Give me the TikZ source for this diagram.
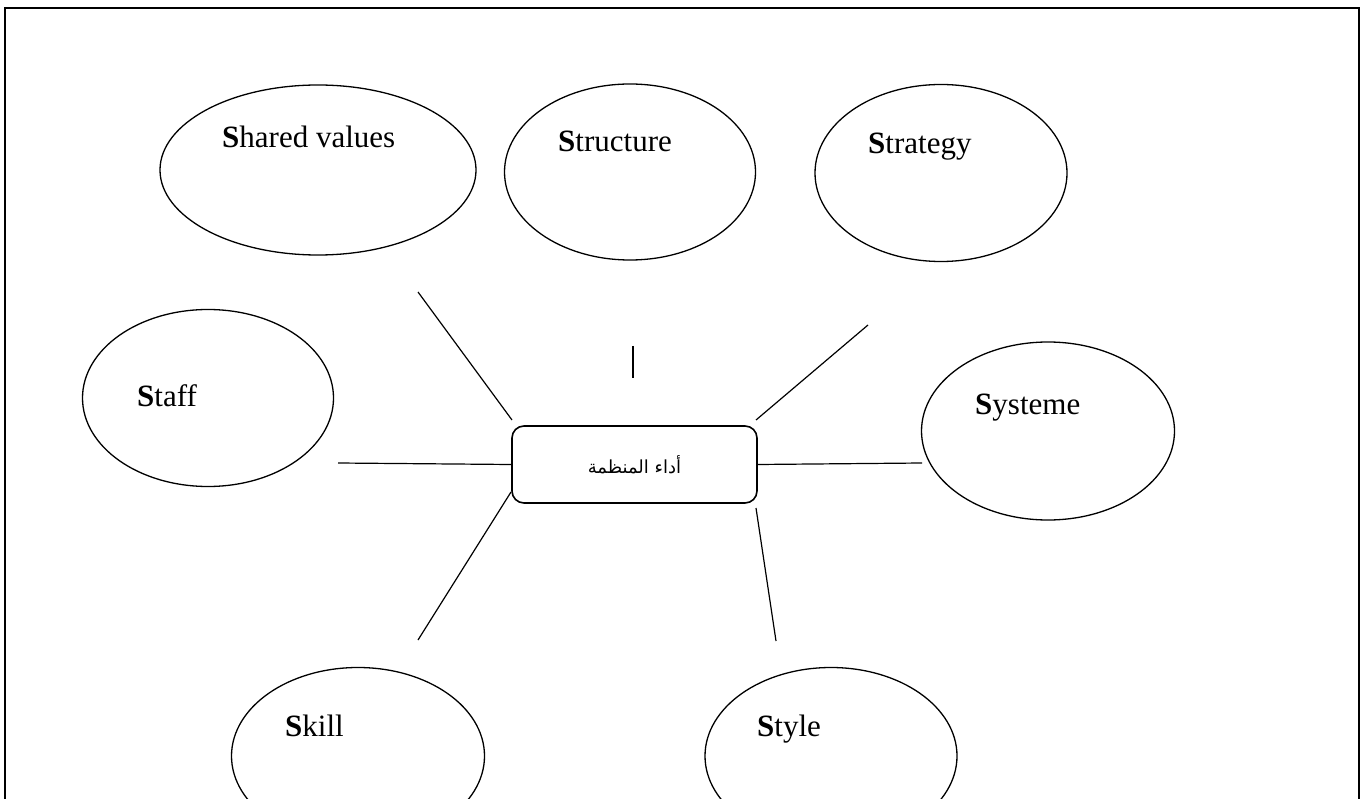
\documentclass[tikz,border=0pt]{standalone}
\usepackage{fontspec}
\setmainfont{Liberation Serif}
\newfontfamily\arabicfont[Script=Arabic]{DejaVu Sans}
\TeXXeTstate=1
\usetikzlibrary{shapes.geometric}
\tikzset{
  sblob/.style={ellipse, draw, line width=1.3pt, inner sep=0pt},
  sname/.style={anchor=base west, font=\fontsize{31}{35}\selectfont, inner sep=0pt},
  spoke/.style={line width=1.2pt},
  core/.style={draw, rounded corners=12pt, line width=1.6pt, minimum width=245pt, minimum height=77pt}
}
\begin{document}
\begin{tikzpicture}[x=1pt,y=-1pt]
\useasboundingbox (0,0) rectangle (1370,799);
\clip (0,0) rectangle (1370,799);
% frame
\draw[line width=2.4pt] (5,830) -- (5,8) -- (1359,8) -- (1359,830);

% the seven elements
\node[sblob, minimum width=316pt, minimum height=170pt] (shv) at (318,170) {};
\node[sblob, minimum width=251pt, minimum height=176pt] (str) at (630,172) {};
\node[sblob, minimum width=252pt, minimum height=177pt] (stg) at (941,173) {};
\node[sblob, minimum width=251pt, minimum height=177pt] (stf) at (208,398) {};
\node[sblob, minimum width=253pt, minimum height=178pt] (sys) at (1048,431) {};
\node[sblob, minimum width=253pt, minimum height=177pt] (skl) at (358,756) {};
\node[sblob, minimum width=252pt, minimum height=177pt] (sty) at (831,756) {};

\node[sname] (shvt) at (222,148) {\textbf{S}hared values};
\node[sname] (strt) at (558,152) {\textbf{S}tructure};
\node[sname] (stgt) at (868,154) {\textbf{S}trategy};
\node[sname] (stft) at (137,406) {\textbf{S}taff};
\node[sname] (syst) at (975,414) {\textbf{S}ysteme};
\node[sname] (sklt) at (285,736) {\textbf{S}kill};
\node[sname] (styt) at (757,736) {\textbf{S}tyle};

% organisational performance
\node[core] (perf) at (634.5,464.5) {\arabicfont\fontsize{18}{21}\selectfont\beginR أداء المنظمة\endR};

% spokes
\coordinate (a1) at (418,292); \coordinate (a2) at (512,420);
\coordinate (b1) at (633,346); \coordinate (b2) at (633,378);
\coordinate (c1) at (868,325); \coordinate (c2) at (756,420);
\coordinate (d1) at (338,463); \coordinate (d2) at (perf.west);
\coordinate (e1) at (perf.east); \coordinate (e2) at (922,463);
\coordinate (f1) at (511,492); \coordinate (f2) at (418,640);
\coordinate (g1) at (756,508); \coordinate (g2) at (776,641);
\draw[spoke] (a1) -- (a2);
\draw[spoke] (b1) -- (b2);
\draw[spoke] (c1) -- (c2);
\draw[spoke] (d1) -- (d2);
\draw[spoke] (e1) -- (e2);
\draw[spoke] (f1) -- (f2);
\draw[spoke] (g1) -- (g2);
\end{tikzpicture}
\end{document}
